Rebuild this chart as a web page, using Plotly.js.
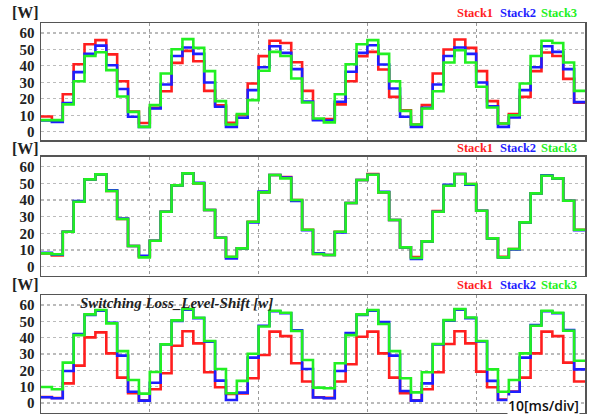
<!DOCTYPE html>
<html>
<head>
<meta charset="utf-8">
<script src="https://cdn.plot.ly/plotly-3.0.1.min.js"></script>
<style>html,body{margin:0;padding:0;background:#fff;}#chart{width:590px;height:414px;}</style>
</head>
<body>
<div id="chart"></div>
<script>
// time axis: 1 ms steps, 0..49 ms
var timeMs = [0,1,2,3,4,5,6,7,8,9,10,11,12,13,14,15,16,17,18,19,20,21,22,23,24,25,26,27,28,29,30,31,32,33,34,35,36,37,38,39,40,41,42,43,44,45,46,47,48,49];
var seriesNames = ["Stack1","Stack2","Stack3"];
var yTicks = [0,10,20,30,40,50,60];

// Panel 1
var p1_stack1 = [9.3,7,22.8,41,53.1,55.6,47,30.7,12.3,5.3,14.5,24.6,41.8,49.1,42.8,24.8,16,5.5,10,29.3,45.9,55.2,53.9,42.2,24.8,7.5,7.7,16.6,30.7,45.9,48.5,37.8,21.2,13.1,4.4,16.2,35.4,49.9,56,50.9,36.8,18.6,5,10.7,21.2,36.8,48.1,46,32.1,17.6];
var p1_stack2 = [6.8,5.9,17.4,36.2,47.3,52.3,40.4,26,9.1,3,14.1,28.7,46,51.1,47.3,29.9,15.2,3,8.5,25.3,39.2,51.9,47.9,38,18.4,7.1,6.8,18.2,36.4,47.9,52.5,40.8,26.3,9.1,3,14.5,28.7,46,51.1,47.3,29.9,15.4,3,8.7,25.3,39.2,51.9,48.5,38,18];
var p1_stack3 = [7.1,7.1,16.6,30.7,46,48.3,37.4,21.4,12.1,3,16.2,35.4,50.1,56.2,50.9,36.8,18.6,4.4,10.7,19.2,37,48.5,46,32.3,17.8,8.1,5.7,22.8,41,53.1,55.6,47.3,30.7,12.7,4.4,14.1,24.6,42,49.5,42,27.3,14.7,5,10,29.3,46,55.2,53.9,42,24.8];

// Panel 2
var p2_stack1 = [8,6.8,21,39,52.4,55.4,45.4,28.6,12.4,6,15.6,33,48.8,56,50,34,17.4,5.8,11,27,44.6,55,53.8,40,22.2,7.6,7,21,38.2,52,55.6,44.6,28,11.6,5.8,15.2,33.4,48.6,55.6,49.6,33.6,17,5.9,10.6,26.6,44,54.6,53,39.6,22.2];
var p2_stack2 = [8.4,7.2,21,39.4,52.4,55.4,45.8,28.9,12.4,6.6,15.6,33,48.8,56,50.4,34,17.4,5,11,26.6,45.1,55,53.5,39.5,21.9,8,7,20.6,38.2,52,55.2,44.9,28,11.6,4.6,15.2,33,49.2,55.6,49.2,33.6,17,5.6,10.3,26.6,44,54.9,53,39.6,21.9];
var p2_stack3 = [8,7.5,21,39,52.4,55.4,45.4,28.6,12.4,5.6,15.6,33,48.8,56,50,34,17.4,6,11,27,44.6,55,53,40,22.2,7.6,7,21,38.2,52,55.2,44.6,28,11.6,5.2,15.2,33,48.6,55.6,49.6,33.6,17,5.6,10.6,26.6,44,54.6,53,39.6,22.2];

// Panel 3
var p3_stack1 = [3.6,3,12,22.9,40.2,43.3,30.4,15.5,6,1.6,8.4,18.2,35.1,44,36.5,18.8,9.6,5.5,5.8,15.1,29.4,43.7,41,24.3,13.1,3.5,3.1,13.1,23.7,40.6,43.7,30.4,15.5,5.9,1.6,8.4,18.8,36.1,44,36.5,19.2,9.6,2,7,15.5,30.4,43.7,41,24.7,13.1];
var p3_stack2 = [3.5,2.9,19.6,42.2,54,56.6,49.2,29,6.9,1.4,12.4,35.9,50.3,57.2,52,37.6,13.7,1.8,6.3,27.8,47.3,56.2,55,44.5,20.8,3.3,2.9,19.6,42.9,54,56.6,49.6,29,7.3,1.4,12,35.8,50.5,57.2,52,37.7,13.5,1.8,6.9,27.8,47.8,56.2,55,44.7,20.6];
var p3_stack3 = [9.8,8.4,24.7,41.6,54.3,57,48.8,31.8,14.1,5.7,19,35.9,50.6,57.6,52.2,38,20.8,5.9,13.5,30.2,46.9,56.5,55.3,44.1,26.3,9.4,9,24.3,41.6,54.3,57,48.4,31.8,15.1,6.5,18.8,36.1,50.8,57.6,52.4,38,20.6,6.9,14.1,30.4,47.3,56.5,55.3,44.3,25.9];

var colors = ["#ff1e1e","#1e1eff","#22f022"];
var panels = [[p1_stack1,p1_stack2,p1_stack3],[p2_stack1,p2_stack2,p2_stack3],[p3_stack1,p3_stack2,p3_stack3]];

var traces = [];
panels.forEach(function(pan, pi){
  pan.forEach(function(vals, si){
    var xs = timeMs.concat([timeMs[timeMs.length-1]+1]);
    var ys = vals.concat([vals[vals.length-1]]);
    traces.push({
      x: xs, y: ys, type:'scatter', mode:'lines',
      line:{shape:'hv', color:colors[si], width:2.6},
      name: seriesNames[si], showlegend:false,
      xaxis: pi===0?'x':'x'+(pi+1), yaxis: pi===0?'y':'y'+(pi+1),
      hoverinfo:'skip'
    });
  });
});

function xax(){
  return {range:[0,50], dtick:10, tick0:0, showticklabels:false, ticks:'',
    showgrid:true, gridcolor:'#999', griddash:'dot', gridwidth:1,
    zeroline:false, showline:true, mirror:true, linecolor:'#555', linewidth:1.5, fixedrange:true};
}
function yax(rng, dom, anchor){
  return {range:rng, domain:dom, anchor:anchor, tickvals:yTicks, ticks:'', ticklabelstandoff:2,
    tickfont:{family:'Liberation Serif', size:15, color:'#222', weight:'bold'},
    showgrid:true, gridcolor:'#bbb', griddash:'dot', gridwidth:1.2,
    zeroline:false, showline:true, mirror:true, linecolor:'#555', linewidth:1.5, fixedrange:true};
}

var layout = {
  width:590, height:414, paper_bgcolor:'#fff', plot_bgcolor:'#fff',
  margin:{l:41, r:5, t:0, b:0},
  showlegend:false,
  xaxis: Object.assign(xax(), {anchor:'y'}),
  xaxis2: Object.assign(xax(), {anchor:'y2'}),
  xaxis3: Object.assign(xax(), {anchor:'y3'}),
  yaxis: yax([-5,66],[0.6618,0.9444],'x'),
  yaxis2: yax([-5.4,66],[0.3341,0.6215],'x2'),
  yaxis3: yax([-6,66],[0.0031,0.2867],'x3'),
  annotations: []
};

var labelY = [0.9698, 0.6425, 0.3116];
var legX = [0.7987, 0.876, 0.9513];
labelY.forEach(function(yy){
  layout.annotations.push({text:'[W]', xref:'paper', yref:'paper', x:-0.0294, y:yy, showarrow:false,
    xanchor:'center', yanchor:'middle', font:{family:'Liberation Serif', size:16, color:'#222', weight:'bold'}});
  seriesNames.forEach(function(nm, i){
    layout.annotations.push({text:nm, xref:'paper', yref:'paper', x:legX[i], y:yy, showarrow:false,
      xanchor:'center', yanchor:'middle', font:{family:'Liberation Serif', size:12.5, color:colors[i], weight:'bold'}});
  });
});
layout.annotations.push({text:'<i>Switching Loss_Level-Shift [w]</i>', xref:'paper', yref:'paper', x:0.249, y:0.2688,
  showarrow:false, xanchor:'center', yanchor:'middle', font:{family:'Liberation Serif', size:15, color:'#222', weight:'bold'}});
layout.annotations.push({text:'10[ms/div]', xref:'paper', yref:'paper', x:0.9246, y:0.0217, showarrow:false,
  xanchor:'center', yanchor:'middle', bgcolor:'#fff', borderpad:0,
  font:{family:'Open Sans', size:14, color:'#111', weight:600}});

Plotly.newPlot('chart', traces, layout, {staticPlot:true, displayModeBar:false});
</script>
</body>
</html>
